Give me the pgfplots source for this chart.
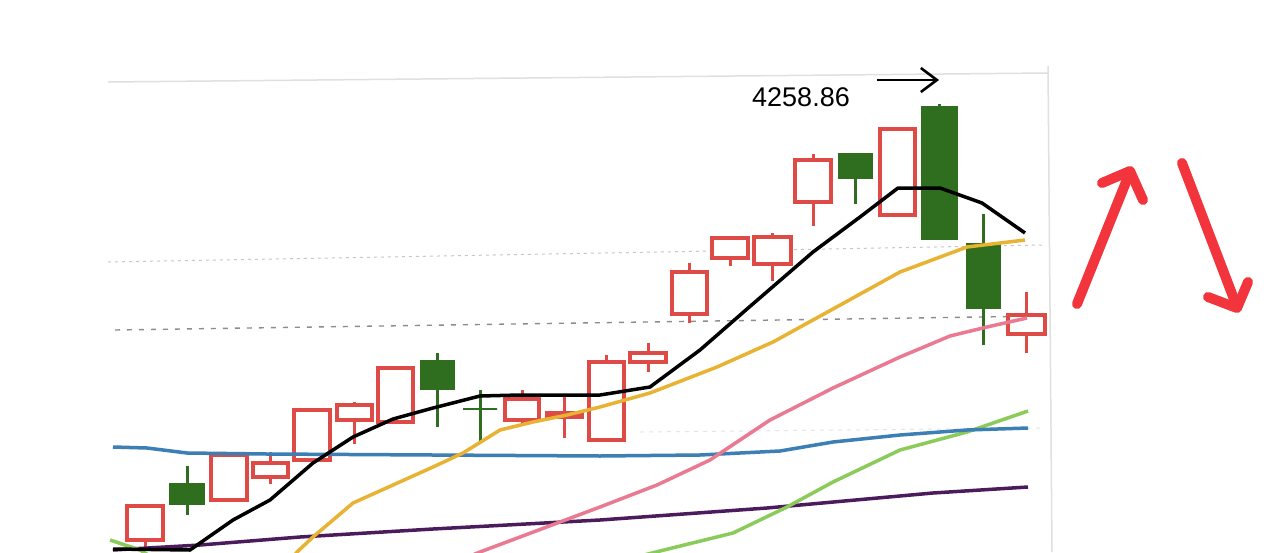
\documentclass[border=0pt]{standalone}
\usepackage{pgfplots}
\pgfplotsset{compat=1.18}
\usepackage{fontspec}
\setmainfont{Liberation Sans}
\usetikzlibrary{arrows.meta}

\definecolor{upred}{HTML}{DE4A45}
\definecolor{dngreen}{HTML}{2F6E1F}
\definecolor{ma10}{HTML}{E8B232}
\definecolor{ma20}{HTML}{E97A92}
\definecolor{ma60}{HTML}{3C7FB5}
\definecolor{ma120}{HTML}{8BCB5A}
\definecolor{ma250}{HTML}{4B1B5B}
\definecolor{markred}{HTML}{F2343C}

% candle: xl, xr, xc, body top, body bottom, high, low (pixel rows)
\newcommand{\up}[7]{%
  \addplot[upred, line width=3pt] coordinates {(#3,#6) (#3,#7)};
  \addplot[upred, line width=3.5pt, fill=white] coordinates {(#1,#4) (#2,#4) (#2,#5) (#1,#5)} -- cycle;
}
\newcommand{\dn}[7]{%
  \addplot[dngreen, line width=3pt] coordinates {(#3,#6) (#3,#7)};
  \addplot[dngreen, line width=2pt, fill=dngreen] coordinates {(#1,#4) (#2,#4) (#2,#5) (#1,#5)} -- cycle;
}

\begin{document}
\begin{tikzpicture}
\begin{axis}[
    scale only axis,
    width=1280pt, height=552pt,
    xmin=0, xmax=1280, ymin=0, ymax=552,
    y dir=reverse,
    hide axis,
    clip=true]
  \addplot[draw=none, fill=white] coordinates {(0,0) (1280,0) (1280,552) (0,552)} -- cycle;

  % frame and guide lines
  \addplot[black!12, line width=1.5pt] coordinates {(108,82) (1048,73)};
  \addplot[black!12, line width=1.5pt] coordinates {(1048,66) (1052,552)};
  \addplot[black!22, line width=1pt, dash pattern=on 3pt off 4pt] coordinates {(108,262) (1045,245)};
  \addplot[black!45, line width=1.4pt, dash pattern=on 5pt off 7pt] coordinates {(115,330) (1045,316)};
  \addplot[black!10, line width=1pt, dash pattern=on 4pt off 5pt] coordinates {(640,432) (1045,428)};

  % candles
  \up{127}{163}{145}{506}{540}{506}{550}
  \dn{170}{204}{187}{484}{504}{466}{515}
  \up{211}{247}{229}{455}{500}{455}{500}
  \up{253}{288}{270}{463}{477}{452}{484}
  \up{294}{330}{312}{410}{460}{410}{460}
  \up{337}{372}{354}{405}{420}{402}{444}
  \up{378}{413}{396}{368}{422}{368}{422}
  \dn{421}{454}{437}{361}{389}{353}{427}
  \dn{463}{497}{480}{409}{409}{390}{443}
  \up{505}{539}{522}{399}{420}{390}{425}
  \up{547}{582}{564}{413}{417}{394}{438}
  \up{589}{624}{606}{362}{440}{355}{440}
  \up{630}{666}{648}{353}{362}{343}{372}
  \up{672}{707}{689}{272}{314}{263}{323}
  \up{712}{748}{730}{238}{258}{238}{266}
  \up{754}{791}{772}{237}{264}{233}{281}
  \up{795}{831}{813}{160}{202}{154}{226}
  \dn{839}{872}{855}{154}{178}{153}{204}
  \up{880}{915}{897}{129}{215}{127}{215}
  \dn{922}{957}{939}{107}{239}{104}{239}
  \dn{967}{1000}{983}{244}{308}{214}{345}
  \up{1008}{1045}{1026}{315}{334}{292}{353}

  % moving averages
  \addplot[ma250, line width=3.5pt] coordinates {
    (113,550) (200,545) (300,537) (433,529) (600,520) (767,508) (933,493) (1028,487)};
  \addplot[ma120, line width=3.5pt] coordinates {(110,540) (140,550) (150,556)};
  \addplot[ma120, line width=3.5pt] coordinates {
    (640,556) (660,551) (733,533) (787,507) (833,482) (900,450) (967,432) (1028,411)};
  \addplot[ma60, line width=3.5pt] coordinates {
    (113,447) (147,448) (187,453) (267,454) (433,455) (600,456) (700,455)
    (780,451) (833,442) (900,435) (967,430) (1028,428)};
  \addplot[ma20, line width=3.5pt] coordinates {
    (470,556) (480,552) (600,507) (657,485) (710,460) (770,420) (833,388)
    (900,357) (950,336) (987,327) (1027,318)};
  \addplot[ma10, line width=3.5pt] coordinates {
    (294,556) (297,552) (313,537) (353,503) (393,485) (433,467) (463,453)
    (500,430) (533,422) (567,415) (600,407) (650,393) (717,367) (773,342)
    (833,309) (900,272) (967,247) (1025,240)};
  \addplot[black, line width=3.5pt, line join=round] coordinates {
    (113,549) (190,550) (233,520) (270,500) (313,463) (353,437) (393,419)
    (433,408) (480,396) (520,395) (600,395) (650,387) (700,350) (747,309)
    (813,252) (860,217) (898,188) (940,188) (982,203) (1025,233)};

  % annotation
  \node[anchor=center, inner sep=0pt] at (axis cs:801,97) {\fontsize{27}{30}\selectfont 4258.86};
  \addplot[black, line width=2.6pt, -{Straight Barb[length=16pt, width=24pt, line width=2.6pt]}]
    coordinates {(877,80) (939,80)};

  % hand-drawn red arrows
  \addplot[markred, line width=10pt, line cap=round, line join=round] coordinates {(1077,304) (1130,172)};
  \addplot[markred, line width=10pt, line cap=round, line join=round] coordinates {(1102,183) (1130,171) (1143,200)};
  \addplot[markred, line width=10pt, line cap=round, line join=round] coordinates {(1182,163) (1237,307)};
  \addplot[markred, line width=10pt, line cap=round, line join=round] coordinates {(1208,297) (1237,308) (1248,282)};
\end{axis}
\end{tikzpicture}
\end{document}
